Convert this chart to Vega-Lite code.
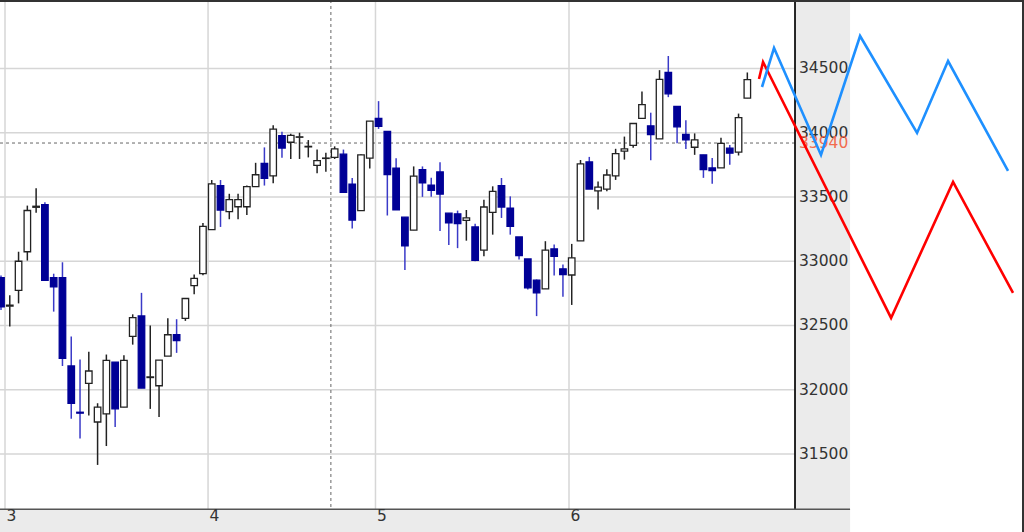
{
  "$schema": "https://vega.github.io/schema/vega-lite/v6.json",
  "width": 1024,
  "height": 532,
  "padding": 0,
  "autosize": {"type": "none"},
  "background": "#ffffff",
  "config": {"view": {"stroke": null}, "scale": {"continuousPadding": 0}},
  "datasets": {
    "one": [{}],
    "candles": [
      {"t":0,"o":32872,"h":32890,"l":32620,"c":32646},
      {"t":1,"o":32650,"h":32736,"l":32492,"c":32659},
      {"t":2,"o":32774,"h":33074,"l":32672,"c":33000},
      {"t":3,"o":33074,"h":33433,"l":33005,"c":33395},
      {"t":4,"o":33420,"h":33569,"l":33377,"c":33428},
      {"t":5,"o":33441,"h":33459,"l":32851,"c":32851},
      {"t":6,"o":32872,"h":32903,"l":32608,"c":32800},
      {"t":7,"o":32872,"h":32992,"l":32185,"c":32244},
      {"t":8,"o":32185,"h":32415,"l":31774,"c":31895},
      {"t":9,"o":31825,"h":32236,"l":31621,"c":31818},
      {"t":10,"o":32049,"h":32295,"l":31800,"c":32146},
      {"t":11,"o":31749,"h":31895,"l":31415,"c":31864},
      {"t":12,"o":31813,"h":32274,"l":31562,"c":32228},
      {"t":13,"o":32215,"h":32215,"l":31710,"c":31851},
      {"t":14,"o":31864,"h":32269,"l":31864,"c":32228},
      {"t":15,"o":32415,"h":32587,"l":32351,"c":32562},
      {"t":16,"o":32574,"h":32754,"l":32013,"c":32013},
      {"t":17,"o":32095,"h":32500,"l":31851,"c":32100},
      {"t":18,"o":32031,"h":32231,"l":31787,"c":32231},
      {"t":19,"o":32262,"h":32556,"l":32262,"c":32428},
      {"t":20,"o":32428,"h":32549,"l":32287,"c":32382},
      {"t":21,"o":32556,"h":32710,"l":32536,"c":32710},
      {"t":22,"o":32810,"h":32896,"l":32744,"c":32866},
      {"t":23,"o":32904,"h":33297,"l":32891,"c":33272},
      {"t":24,"o":33246,"h":33632,"l":33246,"c":33602},
      {"t":25,"o":33589,"h":33632,"l":33267,"c":33398},
      {"t":26,"o":33386,"h":33525,"l":33327,"c":33480},
      {"t":27,"o":33424,"h":33525,"l":33327,"c":33480},
      {"t":28,"o":33424,"h":33590,"l":33360,"c":33581},
      {"t":29,"o":33581,"h":33766,"l":33581,"c":33673},
      {"t":30,"o":33761,"h":33886,"l":33589,"c":33645},
      {"t":31,"o":33665,"h":34058,"l":33607,"c":34028},
      {"t":32,"o":33977,"h":34008,"l":33805,"c":33881},
      {"t":33,"o":33926,"h":33993,"l":33796,"c":33980},
      {"t":34,"o":33965,"h":34000,"l":33796,"c":33968},
      {"t":35,"o":33890,"h":33943,"l":33808,"c":33894},
      {"t":36,"o":33746,"h":33869,"l":33685,"c":33783},
      {"t":37,"o":33800,"h":33845,"l":33697,"c":33803},
      {"t":38,"o":33808,"h":33894,"l":33796,"c":33874},
      {"t":39,"o":33833,"h":33869,"l":33537,"c":33537},
      {"t":40,"o":33599,"h":33648,"l":33254,"c":33320},
      {"t":41,"o":33394,"h":33833,"l":33394,"c":33828},
      {"t":42,"o":33803,"h":34091,"l":33722,"c":34091},
      {"t":43,"o":34111,"h":34246,"l":34030,"c":34049},
      {"t":44,"o":34010,"h":34010,"l":33356,"c":33674},
      {"t":45,"o":33725,"h":33801,"l":33399,"c":33399},
      {"t":46,"o":33343,"h":33343,"l":32931,"c":33119},
      {"t":47,"o":33242,"h":33738,"l":33242,"c":33662},
      {"t":48,"o":33712,"h":33738,"l":33501,"c":33611},
      {"t":49,"o":33593,"h":33649,"l":33501,"c":33552},
      {"t":50,"o":33695,"h":33771,"l":33236,"c":33522},
      {"t":51,"o":33374,"h":33374,"l":33127,"c":33298},
      {"t":52,"o":33369,"h":33394,"l":33102,"c":33292},
      {"t":53,"o":33318,"h":33399,"l":33160,"c":33338},
      {"t":54,"o":33267,"h":33292,"l":33000,"c":33007},
      {"t":55,"o":33086,"h":33479,"l":33039,"c":33422},
      {"t":56,"o":33381,"h":33583,"l":33207,"c":33544},
      {"t":57,"o":33588,"h":33648,"l":33337,"c":33422},
      {"t":58,"o":33414,"h":33505,"l":33207,"c":33272},
      {"t":59,"o":33189,"h":33189,"l":33013,"c":33044},
      {"t":60,"o":33018,"h":33018,"l":32780,"c":32793},
      {"t":61,"o":32853,"h":32858,"l":32573,"c":32754},
      {"t":62,"o":32785,"h":33156,"l":32785,"c":33086},
      {"t":63,"o":33096,"h":33130,"l":32889,"c":33039},
      {"t":64,"o":32941,"h":32974,"l":32723,"c":32897},
      {"t":65,"o":32893,"h":33135,"l":32660,"c":33026},
      {"t":66,"o":33158,"h":33788,"l":33158,"c":33757},
      {"t":67,"o":33773,"h":33812,"l":33562,"c":33562},
      {"t":68,"o":33547,"h":33620,"l":33403,"c":33577},
      {"t":69,"o":33562,"h":33715,"l":33544,"c":33671},
      {"t":70,"o":33664,"h":33875,"l":33633,"c":33837},
      {"t":71,"o":33857,"h":33970,"l":33791,"c":33875},
      {"t":72,"o":33901,"h":34072,"l":33883,"c":34072},
      {"t":73,"o":34112,"h":34321,"l":34112,"c":34219},
      {"t":74,"o":34054,"h":34156,"l":33786,"c":33985},
      {"t":75,"o":33952,"h":34487,"l":33952,"c":34416},
      {"t":76,"o":34469,"h":34597,"l":34277,"c":34303},
      {"t":77,"o":34205,"h":34205,"l":33918,"c":34046},
      {"t":78,"o":33987,"h":34097,"l":33874,"c":33944},
      {"t":79,"o":33887,"h":33995,"l":33828,"c":33944},
      {"t":80,"o":33828,"h":33828,"l":33649,"c":33713},
      {"t":81,"o":33726,"h":33803,"l":33603,"c":33705},
      {"t":82,"o":33726,"h":33962,"l":33726,"c":33918},
      {"t":83,"o":33880,"h":33905,"l":33751,"c":33841},
      {"t":84,"o":33849,"h":34149,"l":33823,"c":34118},
      {"t":85,"o":34269,"h":34469,"l":34269,"c":34413}
    ],
    "grid": [{"v":31500},{"v":32000},{"v":32500},{"v":33000},{"v":33500},{"v":34000},{"v":34500}],
    "days": [{"day":"3","t":0.455},{"day":"4","t":23.58},{"day":"5","t":42.65},{"day":"6","t":64.69}],
    "proj": [
      {"series":"red","t":86.33,"v":34418},
      {"series":"red","t":86.79,"v":34551},
      {"series":"red","t":101.37,"v":32559},
      {"series":"red","t":108.43,"v":33617},
      {"series":"red","t":115.26,"v":32753},
      {"series":"blue","t":86.67,"v":34356},
      {"series":"blue","t":88.04,"v":34659},
      {"series":"blue","t":93.39,"v":33827},
      {"series":"blue","t":97.84,"v":34753},
      {"series":"blue","t":104.33,"v":33998},
      {"series":"blue","t":107.86,"v":34558},
      {"series":"blue","t":114.69,"v":33703}
    ],
    "last": [{"label":"33940","v":33920}]
  },
  "layer": [
    {
      "data": {"name": "one"},
      "mark": {"type": "rect", "color": "#ebebeb"},
      "encoding": {
        "x": {"datum": 90.43, "type": "quantitative", "scale": {"domain": [-0.114, 116.51], "nice": false, "zero": false, "padding": 0}, "axis": null},
        "x2": {"datum": 96.7},
        "y": {"datum": 35033, "type": "quantitative", "scale": {"domain": [30893, 35033], "nice": false, "zero": false, "padding": 0}, "axis": null},
        "y2": {"datum": 30893}
      }
    },
    {
      "data": {"name": "one"},
      "mark": {"type": "rect", "color": "#ebebeb"},
      "encoding": {
        "x": {"datum": -0.114, "type": "quantitative", "scale": {"domain": [-0.114, 116.51], "nice": false, "zero": false, "padding": 0}, "axis": null},
        "x2": {"datum": 96.7},
        "y": {"datum": 31070, "type": "quantitative", "scale": {"domain": [30893, 35033], "nice": false, "zero": false, "padding": 0}, "axis": null},
        "y2": {"datum": 30893}
      }
    },
    {
      "data": {"name": "grid"},
      "mark": {"type": "rule", "color": "#d6d6d6", "strokeWidth": 1.5},
      "encoding": {
        "y": {"field": "v", "type": "quantitative", "scale": {"domain": [30893, 35033], "nice": false, "zero": false, "padding": 0}, "axis": null},
        "x": {"datum": -0.114, "type": "quantitative", "scale": {"domain": [-0.114, 116.51], "nice": false, "zero": false, "padding": 0}, "axis": null},
        "x2": {"datum": 90.43}
      }
    },
    {
      "data": {"name": "days"},
      "mark": {"type": "rule", "color": "#d6d6d6", "strokeWidth": 1.5},
      "encoding": {
        "x": {"field": "t", "type": "quantitative", "scale": {"domain": [-0.114, 116.51], "nice": false, "zero": false, "padding": 0}, "axis": null},
        "y": {"datum": 35033, "type": "quantitative", "scale": {"domain": [30893, 35033], "nice": false, "zero": false, "padding": 0}, "axis": null},
        "y2": {"datum": 31070}
      }
    },
    {
      "data": {"name": "one"},
      "mark": {"type": "rule", "color": "#666666", "strokeWidth": 1, "strokeDash": [3, 3]},
      "encoding": {
        "x": {"datum": 37.57, "type": "quantitative", "scale": {"domain": [-0.114, 116.51], "nice": false, "zero": false, "padding": 0}, "axis": null},
        "y": {"datum": 35033, "type": "quantitative", "scale": {"domain": [30893, 35033], "nice": false, "zero": false, "padding": 0}, "axis": null},
        "y2": {"datum": 31070}
      }
    },
    {
      "data": {"name": "last"},
      "mark": {"type": "rule", "color": "#666666", "strokeWidth": 1, "strokeDash": [3, 3]},
      "encoding": {
        "y": {"field": "v", "type": "quantitative", "scale": {"domain": [30893, 35033], "nice": false, "zero": false, "padding": 0}, "axis": null},
        "x": {"datum": -0.114, "type": "quantitative", "scale": {"domain": [-0.114, 116.51], "nice": false, "zero": false, "padding": 0}, "axis": null},
        "x2": {"datum": 90.43}
      }
    },
    {
      "data": {"name": "candles"},
      "mark": {"type": "rule", "strokeWidth": 1.5, "clip": true},
      "encoding": {
        "x": {"field": "t", "type": "quantitative", "scale": {"domain": [-0.114, 116.51], "nice": false, "zero": false, "padding": 0}, "axis": null},
        "y": {"field": "l", "type": "quantitative", "scale": {"domain": [30893, 35033], "nice": false, "zero": false, "padding": 0}, "axis": null},
        "y2": {"field": "h"},
        "color": {"condition": {"test": "datum.c < datum.o", "value": "#3a3ac8"}, "value": "#222222"}
      }
    },
    {
      "data": {"name": "candles"},
      "mark": {"type": "bar", "size": 6.5, "strokeWidth": 1.3, "clip": true},
      "encoding": {
        "x": {"field": "t", "type": "quantitative", "scale": {"domain": [-0.114, 116.51], "nice": false, "zero": false, "padding": 0}, "axis": null},
        "y": {"field": "o", "type": "quantitative", "scale": {"domain": [30893, 35033], "nice": false, "zero": false, "padding": 0}, "axis": null},
        "y2": {"field": "c"},
        "fill": {"condition": {"test": "datum.c < datum.o", "value": "#000096"}, "value": "#ffffff"},
        "stroke": {"condition": {"test": "datum.c < datum.o", "value": "#000096"}, "value": "#222222"}
      }
    },
    {
      "data": {"name": "one"},
      "mark": {"type": "rule", "color": "#111111", "strokeWidth": 1.8},
      "encoding": {
        "x": {"datum": 90.43, "type": "quantitative", "scale": {"domain": [-0.114, 116.51], "nice": false, "zero": false, "padding": 0}, "axis": null},
        "y": {"datum": 35033, "type": "quantitative", "scale": {"domain": [30893, 35033], "nice": false, "zero": false, "padding": 0}, "axis": null},
        "y2": {"datum": 31070}
      }
    },
    {
      "data": {"name": "one"},
      "mark": {"type": "rule", "color": "#555555", "strokeWidth": 1.5},
      "encoding": {
        "y": {"datum": 31070, "type": "quantitative", "scale": {"domain": [30893, 35033], "nice": false, "zero": false, "padding": 0}, "axis": null},
        "x": {"datum": -0.114, "type": "quantitative", "scale": {"domain": [-0.114, 116.51], "nice": false, "zero": false, "padding": 0}, "axis": null},
        "x2": {"datum": 96.7}
      }
    },
    {
      "data": {"name": "one"},
      "mark": {"type": "rule", "color": "#333333", "strokeWidth": 4},
      "encoding": {
        "y": {"datum": 35033, "type": "quantitative", "scale": {"domain": [30893, 35033], "nice": false, "zero": false, "padding": 0}, "axis": null},
        "x": {"datum": -0.114, "type": "quantitative", "scale": {"domain": [-0.114, 116.51], "nice": false, "zero": false, "padding": 0}, "axis": null},
        "x2": {"datum": 116.51}
      }
    },
    {
      "data": {"name": "one"},
      "mark": {"type": "rule", "color": "#333333", "strokeWidth": 4},
      "encoding": {
        "x": {"datum": 116.51, "type": "quantitative", "scale": {"domain": [-0.114, 116.51], "nice": false, "zero": false, "padding": 0}, "axis": null},
        "y": {"datum": 35033, "type": "quantitative", "scale": {"domain": [30893, 35033], "nice": false, "zero": false, "padding": 0}, "axis": null},
        "y2": {"datum": 30893}
      }
    },
    {
      "data": {"name": "grid"},
      "mark": {"type": "text", "align": "left", "baseline": "middle", "dx": 4, "font": "DejaVu Sans", "fontSize": 15.5, "color": "#333333"},
      "encoding": {
        "y": {"field": "v", "type": "quantitative", "scale": {"domain": [30893, 35033], "nice": false, "zero": false, "padding": 0}, "axis": null},
        "x": {"datum": 90.43, "type": "quantitative", "scale": {"domain": [-0.114, 116.51], "nice": false, "zero": false, "padding": 0}, "axis": null},
        "text": {"field": "v", "type": "quantitative", "format": "d"}
      }
    },
    {
      "data": {"name": "last"},
      "mark": {"type": "text", "align": "left", "baseline": "middle", "dx": 4, "font": "DejaVu Sans", "fontSize": 15.5, "color": "#f26b4f"},
      "encoding": {
        "y": {"field": "v", "type": "quantitative", "scale": {"domain": [30893, 35033], "nice": false, "zero": false, "padding": 0}, "axis": null},
        "x": {"datum": 90.43, "type": "quantitative", "scale": {"domain": [-0.114, 116.51], "nice": false, "zero": false, "padding": 0}, "axis": null},
        "text": {"field": "label"}
      }
    },
    {
      "data": {"name": "proj"},
      "mark": {"type": "line", "strokeWidth": 2.6},
      "encoding": {
        "x": {"field": "t", "type": "quantitative", "scale": {"domain": [-0.114, 116.51], "nice": false, "zero": false, "padding": 0}, "axis": null},
        "y": {"field": "v", "type": "quantitative", "scale": {"domain": [30893, 35033], "nice": false, "zero": false, "padding": 0}, "axis": null},
        "color": {"field": "series", "type": "nominal", "scale": {"domain": ["red", "blue"], "range": ["#ff0000", "#1e90ff"]}, "legend": null}
      }
    },
    {
      "data": {"name": "days"},
      "mark": {"type": "text", "align": "left", "baseline": "top", "dx": 1.5, "dy": 0, "font": "DejaVu Sans", "fontSize": 15.5, "color": "#333333"},
      "encoding": {
        "x": {"field": "t", "type": "quantitative", "scale": {"domain": [-0.114, 116.51], "nice": false, "zero": false, "padding": 0}, "axis": null},
        "y": {"datum": 31070, "type": "quantitative", "scale": {"domain": [30893, 35033], "nice": false, "zero": false, "padding": 0}, "axis": null},
        "text": {"field": "day"}
      }
    }
  ]
}
